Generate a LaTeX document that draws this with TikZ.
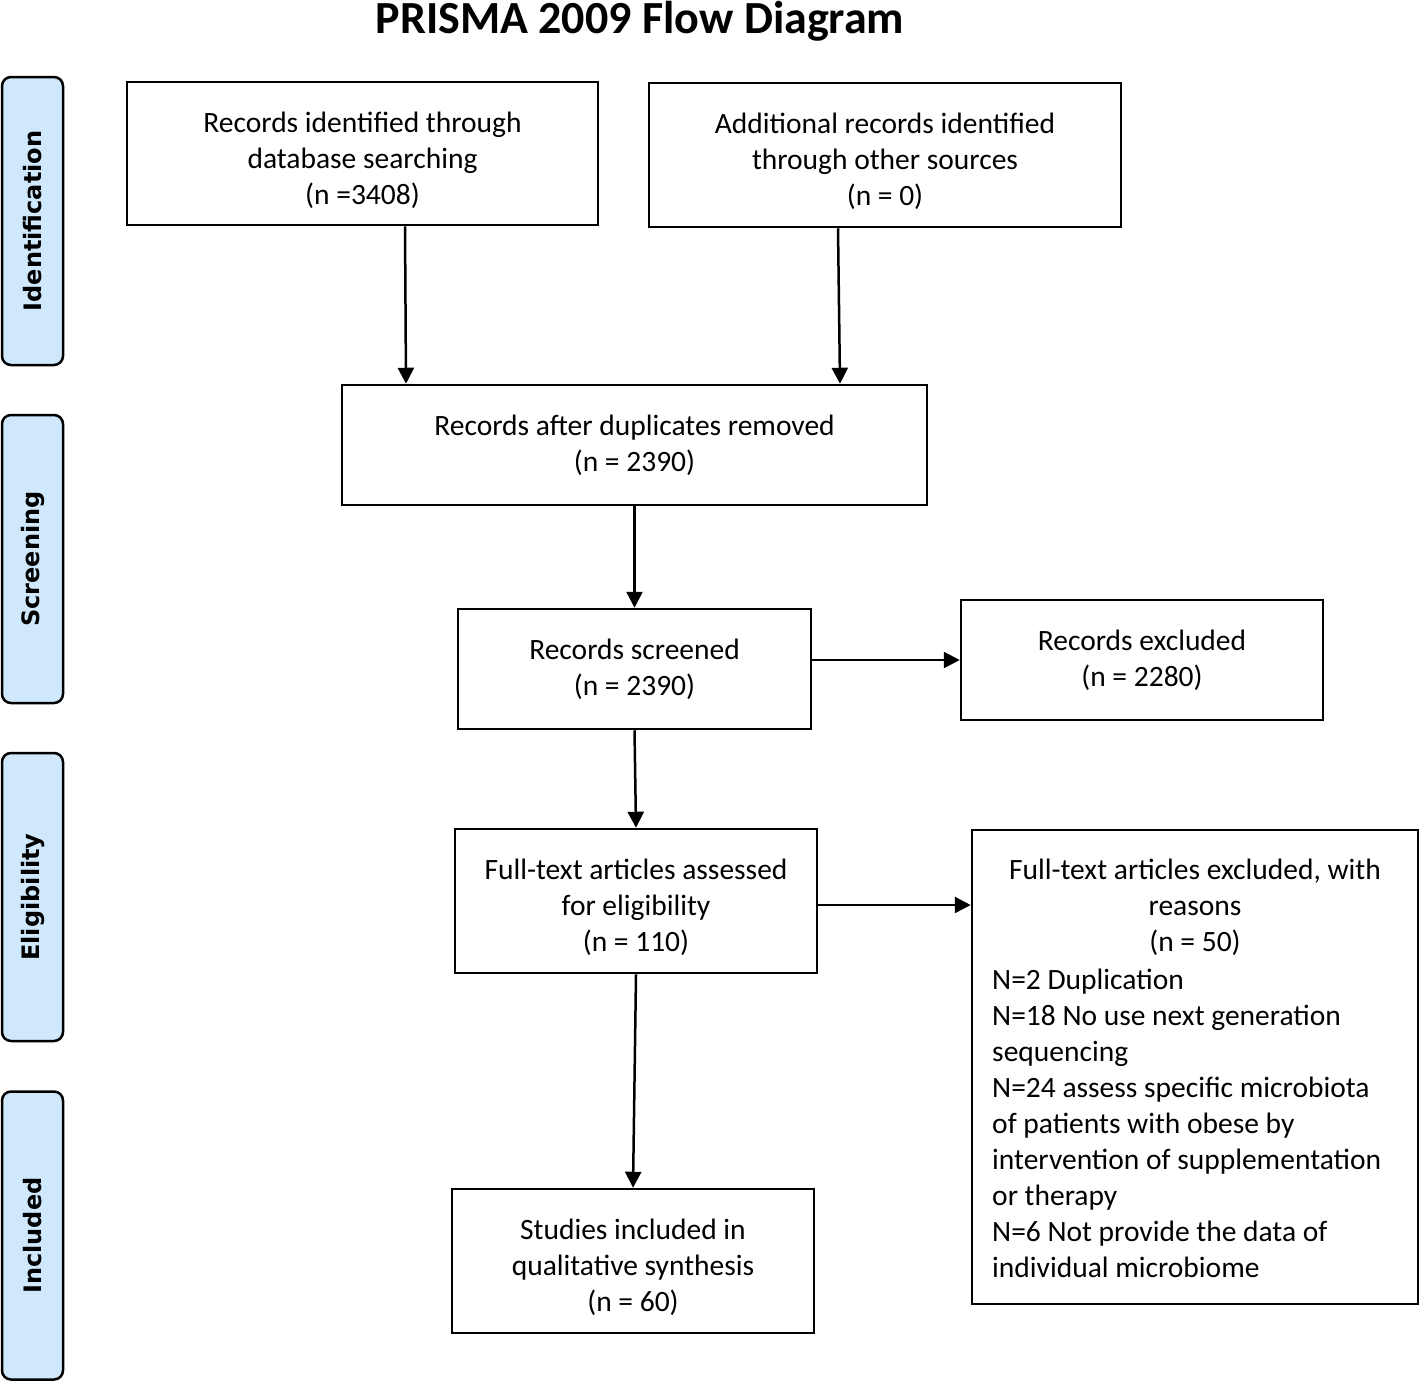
\documentclass[tikz,border=0pt]{standalone}
\usepackage{fontspec}
\setmainfont{Carlito}
\newfontfamily\sidefont{DejaVu Sans}
\usetikzlibrary{arrows.meta}
\definecolor{sideblue}{RGB}{207,232,252}
\newcommand{\lowstrut}{\rule{0pt}{34pt}}
\begin{document}
\begin{tikzpicture}[x=1pt,y=-1pt,
  box/.style={draw, line width=2.5pt, inner sep=0pt, align=center, font=\fontsize{29.5}{36}\selectfont},
  txt/.style={inner sep=0pt, font=\fontsize{29.5}{36}\selectfont},
  side/.style={draw, line width=2.5pt, rounded corners=9pt, fill=sideblue, minimum width=61pt, minimum height=288pt, inner sep=0pt},
  sidetext/.style={rotate=90, font=\sidefont\bfseries\fontsize{24}{28}\selectfont},
  arr/.style={line width=2.5pt, -{Triangle[length=16pt,width=16pt]}}]
\useasboundingbox (0,0) rectangle (1420,1382);
\node[font=\bfseries\fontsize{46}{50}\selectfont, anchor=base] (title) at (640,33) {PRISMA 2009 Flow Diagram};
% side bars
\node[side] (s1) at (32.5,221) {};
\node[side] (s2) at (32.5,559) {};
\node[side] (s3) at (32.5,897) {};
\node[side] (s4) at (32.5,1235.5) {};
\node[sidetext] (t1) at (s1.center) {Identification};
\node[sidetext] (t2) at (s2.center) {Screening};
\node[sidetext] (t3) at (s3.center) {Eligibility};
\node[sidetext] (t4) at (s4.center) {Included};
% boxes
\node[box, minimum width=471pt, minimum height=143pt] (A) at (362.5,153.5) {\lowstrut Records identified through\\database searching\\(n =3408)};
\node[box, minimum width=472pt, minimum height=144pt] (B) at (885,155) {\lowstrut Additional records identified\\through other sources\\(n = 0)};
\node[box, minimum width=585pt, minimum height=120pt] (C) at (634.5,445) {Records after duplicates removed\\(n = 2390)};
\node[box, minimum width=353pt, minimum height=120pt] (D) at (634.5,669) {Records screened\\(n = 2390)};
\node[box, minimum width=362pt, minimum height=120pt] (E) at (1142,660) {Records excluded\\(n = 2280)};
\node[box, minimum width=362pt, minimum height=144pt] (F) at (636,901) {\lowstrut Full-text articles assessed\\for eligibility\\(n = 110)};
\node[box, minimum width=446pt, minimum height=474pt] (G) at (1195,1067) {};
\node[txt, align=center] (Ghead) at (1195,907) {Full-text articles excluded, with\\reasons\\(n = 50)};
\node[txt, align=left, anchor=west] (Gbody) at (992,1123) {N=2 Duplication\\N=18 No use next generation\\sequencing\\N=24 assess specific microbiota\\of patients with obese by\\intervention of supplementation\\or therapy\\N=6 Not provide the data of\\individual microbiome};
\node[box, minimum width=362pt, minimum height=144pt] (H) at (633,1261) {\lowstrut Studies included in\\qualitative synthesis\\(n = 60)};
% arrows
\draw[arr] ([xshift=42.5pt]A.south) -- ([xshift=-228.5pt]C.north);
\draw[arr] ([xshift=-47pt]B.south) -- ([xshift=205.5pt]C.north);
\draw[arr] (C.south) -- (D.north);
\draw[arr] ([yshift=9pt]D.east) -- (E.west);
\draw[arr] (D.south) -- (F.north);
\draw[arr] ([yshift=-4pt]F.east) -- ([yshift=-4pt]F.east -| G.west);
\draw[arr] (F.south) -- (H.north);
\end{tikzpicture}
\end{document}
